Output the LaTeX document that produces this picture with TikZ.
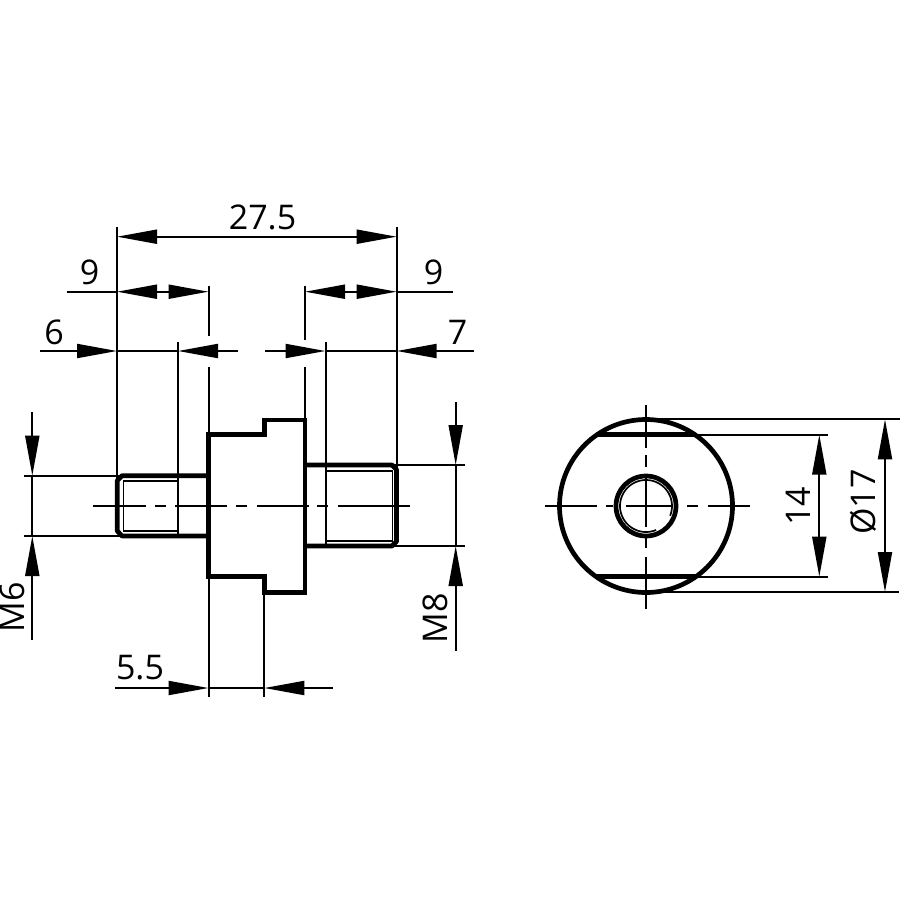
\documentclass[tikz,border=0pt]{standalone}
\usepackage{fontspec}
\setmainfont{Open Sans}
\usetikzlibrary{arrows.meta}
\tikzset{
  x=1pt,y=-1pt,
  heavy/.style={line width=4.7pt,line join=round},
  fine/.style={line width=1.7pt},
  axis/.style={line width=2pt},
  dim/.style={line width=2pt},
  both ends/.style={dim,{Triangle[length=40pt,width=14pt]}-{Triangle[length=40pt,width=14pt]}},
  at end/.style={dim,-{Triangle[length=40pt,width=14pt]}},
  at start/.style={dim,{Triangle[length=40pt,width=14pt]}-},
  label/.style={inner sep=0pt,font=\fontsize{34}{34}\selectfont},
}
\begin{document}
\begin{tikzpicture}
\useasboundingbox (0,0) rectangle (900,900);
% side view: outline
\draw[heavy,line join=miter] (208.5,434.7) -- (264.3,434.7) -- (264.3,420) -- (305,420) -- (305,592.3) -- (264.3,592.3) -- (264.3,576.7) -- (208.5,576.7) -- cycle;
\draw[heavy] (208.5,475.7) -- (122,475.7) -- (117.3,480.5) -- (117.3,531) -- (122,536) -- (208.5,536);
\draw[heavy] (305,465) -- (392,465) -- (396.5,469.5) -- (396.5,541.5) -- (392,546) -- (305,546);
% threads
\draw[fine] (178,480.7) -- (123.5,480.7) -- (123.5,530.7) -- (178,530.7);
\draw[fine] (325.5,470.7) -- (392.5,470.7) -- (392.5,541) -- (325.5,541);
% centre line, side view
\foreach \a/\b in {93/146,155/166,175/227,236/247,257/309,317/328,338/410}
  \draw[axis] (\a,506) -- (\b,506);
% extension lines
\draw[dim] (117,226.7) -- (117,482);
\draw[dim] (396.7,226.7) -- (396.7,471);
\draw[dim] (208.5,285.7) -- (208.5,335.7);
\draw[dim] (208.5,367) -- (208.5,434);
\draw[dim] (305,285.7) -- (305,340);
\draw[dim] (305,367) -- (305,420);
\draw[dim] (178,342) -- (178,536);
\draw[dim] (325.5,342) -- (325.5,546);
\draw[dim] (23.5,475.7) -- (122,475.7);
\draw[dim] (23.5,536) -- (122,536);
\draw[dim] (392,465) -- (464.7,465);
\draw[dim] (392,546) -- (464.7,546);
\draw[dim] (208.5,576.7) -- (208.5,696.7);
\draw[dim] (264.3,592.3) -- (264.3,696.7);
% dimension lines
\draw[both ends] (117,236.7) -- (396.7,236.7);
\draw[dim] (66.7,291.7) -- (117,291.7);
\draw[both ends] (117,291.7) -- (208.5,291.7);
\draw[both ends] (305,291.7) -- (396.7,291.7);
\draw[dim] (396.7,291.7) -- (453.3,291.7);
\draw[at end] (40,351) -- (117,351);
\draw[dim] (117,351) -- (178,351);
\draw[at start] (178,351) -- (238,351);
\draw[at end] (265,351) -- (325.5,351);
\draw[dim] (325.5,351) -- (396.7,351);
\draw[at start] (396.7,351) -- (474,351);
\draw[at end] (32.3,412) -- (32.3,475.7);
\draw[dim] (32.3,475.7) -- (32.3,536);
\draw[at start] (32.3,536) -- (32.3,640);
\draw[at end] (455.7,402) -- (455.7,465);
\draw[dim] (455.7,465) -- (455.7,546);
\draw[at start] (455.7,546) -- (455.7,650.7);
\draw[at end] (114.7,688) -- (208.5,688);
\draw[dim] (208.5,688) -- (264.3,688);
\draw[at start] (264.3,688) -- (332.7,688);
% end view
\draw[heavy] (646,506) circle[radius=86.5];
\draw[heavy] (646,506) circle[radius=30];
\draw[fine] plot[domain=22:-293,samples=120] ({646+26*cos(\x)},{506+26*sin(\x)});
\draw[heavy] (597,434.7) -- (695,434.7);
\draw[heavy] (597,576.7) -- (695,576.7);
\foreach \a/\b in {545/597,606/613,626/673,687/698,708/750}
  \draw[axis] (\a,506) -- (\b,506);
\foreach \a/\b in {405/448,455/467,477/527,538/548,557/609}
  \draw[axis] (646,\a) -- (646,\b);
\draw[dim] (660,419.3) -- (900,419.3);
\draw[dim] (660,592) -- (899,592);
\draw[dim] (695,434.7) -- (828,434.7);
\draw[dim] (695,576.7) -- (828,576.7);
\draw[both ends] (819.3,434.7) -- (819.3,576.7);
\draw[both ends] (885,419.3) -- (885,592);
% labels
\node[label] (d275) at (262.5,217) {27.5};
\node[label] (d9l) at (89.5,272.5) {9};
\node[label] (d9r) at (433.5,272.5) {9};
\node[label] (d6) at (54,332.5) {6};
\node[label] (d7) at (457.5,332.5) {7};
\node[label] (d55) at (140,667.5) {5.5};
\node[label,rotate=90] (m6) at (12.5,607) {M6};
\node[label,rotate=90] (m8) at (435.7,618) {M8};
\node[label,rotate=90] (d14) at (798,506.5) {14};
\node[label,rotate=90] (d17) at (863.5,502) {Ø17};
\end{tikzpicture}
\end{document}
